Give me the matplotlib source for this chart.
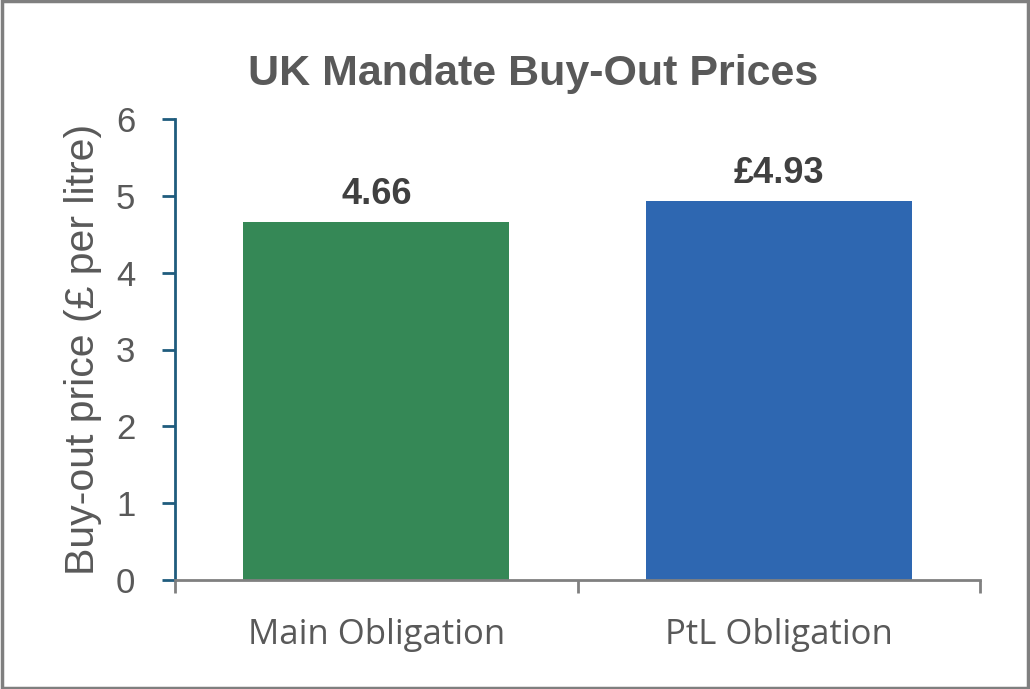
import matplotlib
matplotlib.use("Agg")
import matplotlib.pyplot as plt
from matplotlib.patches import Rectangle

categories = ["Main Obligation", "PtL Obligation"]
values = [4.66, 4.93]
value_labels = ["4.66", "£4.93"]
bar_colors = ["#358856", "#2E67B1"]
yticks = [0, 1, 2, 3, 4, 5, 6]

fig = plt.figure(figsize=(10.30, 6.89), dpi=100)
fig.patches.append(Rectangle((0.0015, 0.002), 0.997, 0.996, transform=fig.transFigure,
                             fill=False, edgecolor="#7F7F7F", linewidth=2.5))
ax = fig.add_axes([175/1030, 1-580/689, (980-175)/1030, (580-119)/689])

x = list(range(len(categories)))
ax.bar(x, values, width=0.66, color=bar_colors, zorder=2)
ax.set_xlim(-0.5, 1.5)
ax.set_ylim(0, 6)
ax.set_yticks(yticks)
ax.set_yticklabels([str(t) for t in yticks], fontsize=25, color="#595959", family="Liberation Sans")
ax.set_xticks([-0.5, 0.5, 1.5])
ax.set_xticklabels([])
ax.set_xticks(x, minor=True)
ax.set_xticklabels(categories, minor=True, fontsize=25, color="#595959", family="Open Sans")
ax.tick_params(axis="x", which="minor", length=0, pad=27)
ax.tick_params(axis="x", which="major", length=9.5, width=2, color="#808080")
ax.tick_params(axis="y", length=9.5, width=2, color="#1F5C7D", pad=19)

for s in ["top", "right"]:
    ax.spines[s].set_visible(False)
ax.spines["left"].set_color("#1F5C7D")
ax.spines["left"].set_linewidth(2)
ax.spines["bottom"].set_color("#808080")
ax.spines["bottom"].set_linewidth(2)
ax.spines["bottom"].set_zorder(3)

ax.set_ylabel("Buy-out price (£ per litre)", fontsize=29.5, color="#595959",
              family="Liberation Sans", labelpad=10)

for xi, v, lab in zip(x, values, value_labels):
    ax.annotate(lab, (xi, v), xytext=(0, 7), textcoords="offset points",
                ha="center", va="bottom", fontsize=26, fontweight="bold",
                color="#404040", family="Liberation Sans")

fig.text(533/1030, 1-74/689, "UK Mandate Buy-Out Prices", ha="center", va="center",
         fontsize=31, fontweight="bold", color="#595959", family="Liberation Sans")

fig.savefig("out.png", dpi=100)
